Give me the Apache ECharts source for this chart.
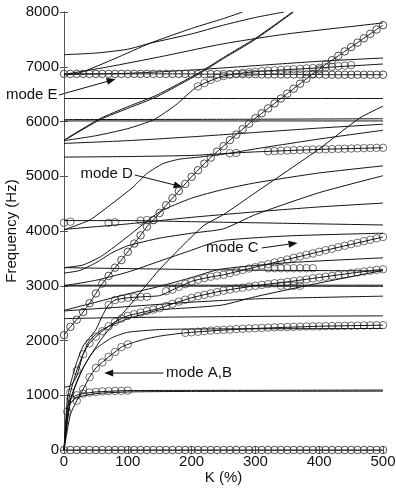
<!DOCTYPE html>
<html>
<head>
<meta charset="utf-8">
<script src="https://cdn.jsdelivr.net/npm/echarts@6/dist/echarts.min.js"></script>
<style>
html, body { margin: 0; padding: 0; background: #fff; }
#box { width: 396px; height: 496px; }
</style>
</head>
<body>
<div id="box"></div>
<script>
// sample positions of the circle markers (K, %)
var kStep = [0, 10, 20, 30, 40, 50, 60, 70, 80, 90, 100, 110, 120, 130, 140, 150, 160, 170, 180, 190, 200,
    210, 220, 230, 240, 250, 260, 270, 280, 290, 300, 310, 320, 330, 340, 350, 360, 370, 380, 390, 400,
    410, 420, 430, 440, 450, 460, 470, 480, 490, 500];

// circle-marked modes, one value per kStep
var zeroHz = [0, 0, 0, 0, 0, 0, 0, 0, 0, 0, 0, 0, 0, 0, 0, 0, 0, 0, 0, 0, 0,
    0, 0, 0, 0, 0, 0, 0, 0, 0, 0, 0, 0, 0, 0, 0, 0, 0, 0, 0, 0,
    0, 0, 0, 0, 0, 0, 0, 0, 0, 0];
var modeEHz = [6870, 6870, 6870, 6870, 6870, 6870, 6870, 6870, 6870, 6870, 6870, 6870, 6870, 6870, 6870, 6870, 6870, 6870, 6870, 6870, 6870,
    6865, 6865, 6865, 6865, 6865, 6865, 6865, 6865, 6865, 6865, 6860, 6860, 6860, 6860, 6860, 6860, 6860, 6860, 6860, 6860,
    6855, 6855, 6855, 6855, 6855, 6855, 6855, 6855, 6855, 6855];
var modeDHz = [2100, 2250, 2380, 2520, 2680, 2860, 3040, 3180, 3330, 3470, 3620, 3770, 3920, 4080, 4200, 4330, 4470, 4600, 4730, 4860, 4990,
    5110, 5230, 5340, 5450, 5550, 5660, 5760, 5860, 5960, 6060, 6150, 6240, 6330, 6420, 6510, 6600, 6690, 6780, 6870, 6950,
    7040, 7120, 7200, 7280, 7360, 7440, 7520, 7600, 7680, 7760];

// other circle groups [K, Hz]
var circLow = [[5, 700], [10, 940], [20, 1000], [30, 1030], [40, 1050], [50, 1060], [60, 1070], [70, 1075], [80, 1080], [90, 1080], [100, 1085]];
var circAB = [[20, 900], [30, 1110], [40, 1330], [50, 1500], [60, 1600], [70, 1700], [80, 1790], [90, 1880], [100, 1930],
    [190, 2140], [200, 2150], [210, 2160], [220, 2170], [230, 2180], [240, 2190], [250, 2195], [260, 2200], [270, 2210], [280, 2215], [290, 2220],
    [300, 2225], [310, 2230], [320, 2235], [330, 2240], [340, 2245], [350, 2248], [360, 2250], [370, 2253], [380, 2256], [390, 2258], [400, 2260],
    [410, 2262], [420, 2264], [430, 2266], [440, 2268], [450, 2270], [460, 2272], [470, 2274], [480, 2276], [490, 2278], [500, 2280]];
var circF5 = [[10, 1050], [20, 1450], [30, 1750], [40, 1950], [50, 2070], [60, 2170], [70, 2260], [80, 2340], [90, 2400], [100, 2450],
    [110, 2480], [120, 2510], [130, 2540], [140, 2565], [150, 2590], [160, 2630], [170, 2670], [180, 2710], [190, 2745], [200, 2780],
    [210, 2810], [220, 2835], [230, 2860], [240, 2885], [250, 2910], [260, 2930], [270, 2950], [280, 2965], [290, 2985], [300, 3000],
    [310, 3015], [320, 3030], [330, 3045], [340, 3055], [350, 3070], [360, 3085], [370, 3100], [380, 3115], [390, 3135], [400, 3150],
    [410, 3165], [420, 3180], [430, 3195], [440, 3210], [450, 3230], [460, 3245], [470, 3260], [480, 3275], [490, 3290], [500, 3300]];
var circC = [[70, 2650], [80, 2740], [90, 2765], [100, 2780], [110, 2790], [120, 2795], [130, 2800],
    [160, 2900], [170, 2930], [180, 2980], [190, 3030], [200, 3080], [210, 3110], [220, 3140], [230, 3165], [240, 3185], [250, 3200],
    [260, 3230], [270, 3260], [280, 3290], [290, 3315], [300, 3340], [310, 3370], [320, 3395], [330, 3425], [340, 3450], [350, 3480],
    [360, 3510], [370, 3535], [380, 3565], [390, 3590], [400, 3620], [410, 3650], [420, 3675], [430, 3705], [440, 3730], [450, 3760],
    [460, 3785], [470, 3815], [480, 3840], [490, 3865], [500, 3890]];
var circC2 = [[320, 3320], [330, 3320], [340, 3320], [350, 3320], [360, 3320], [370, 3320], [380, 3320], [390, 3320], [340, 3000], [350, 3000], [360, 3000], [370, 3000]];
var circQ1 = [[0, 4150], [10, 4170], [70, 4150], [80, 4160], [120, 4190], [130, 4200], [140, 4200]];
var circM5 = [[260, 5420], [270, 5425], [320, 5455], [330, 5460], [340, 5465], [350, 5470], [360, 5475], [370, 5480], [380, 5485], [390, 5488],
    [400, 5490], [410, 5493], [420, 5496], [430, 5500], [440, 5503], [450, 5506], [460, 5510], [470, 5513], [480, 5516], [490, 5518], [500, 5520]];
var circM3 = [[210, 6640], [220, 6700], [230, 6760], [240, 6800], [250, 6830], [260, 6855], [270, 6875], [280, 6890], [290, 6900], [300, 6910],
    [310, 6920], [320, 6928], [330, 6935], [340, 6942], [350, 6950], [360, 6955], [370, 6962], [380, 6970], [390, 6975], [400, 6980],
    [410, 6990], [420, 7000], [430, 7010], [440, 7020], [450, 7030]];

// plain curves [K, Hz]
var curves = [
    [[0, 7220], [50, 7250], [100, 7320], [135, 7430], [200, 7600], [250, 7760], [300, 7900], [345, 8000]],
    [[0, 6850], [25, 6890], [80, 7150], [135, 7430], [200, 7700], [250, 7880], [280, 8000]],
    [[0, 6860], [70, 7000], [150, 7180], [250, 7420], [350, 7600], [500, 7800]],
    [[0, 6860], [100, 6880], [200, 6940], [300, 7020], [400, 7100], [500, 7160]],
    [[0, 5650], [56, 6030], [100, 6240], [145, 6450], [213, 6880], [250, 7150], [300, 7500], [360, 8000]],
    [[0, 5660], [56, 6050], [100, 6270], [145, 6480], [213, 6900], [250, 7170], [300, 7520], [358, 8000]],
    [[0, 6420], [500, 6420]],
    [[0, 6010], [500, 6010]],
    [[0, 6035], [250, 6040], [500, 6050]],
    [[0, 5650], [50, 5740], [100, 5870], [140, 6030], [175, 6300], [208, 6630], [250, 6830], [300, 6910], [400, 6980], [500, 7050]],
    [[0, 5600], [100, 5650], [200, 5720], [300, 5800], [400, 5880], [500, 5950]],
    [[0, 5350], [100, 5360], [200, 5380], [260, 5420], [300, 5445], [400, 5490], [500, 5520]],
    [[0, 4020], [40, 4200], [72, 4470], [108, 4800], [130, 5050], [155, 5230], [180, 5310], [220, 5360], [260, 5420], [300, 5500], [400, 5680], [500, 5840]],
    [[0, 0], [10, 900], [30, 1500], [60, 2050], [100, 2600], [150, 3300], [218, 4090], [250, 4300], [300, 4700], [400, 5500], [463, 6060], [500, 6280]],
    [[0, 4190], [100, 4190], [200, 4170], [300, 4150], [400, 4130], [500, 4110]],
    [[0, 4030], [100, 4130], [200, 4250], [300, 4350], [400, 4440], [500, 4510]],
    [[0, 3330], [30, 3380], [60, 3550], [100, 3900], [150, 4350], [200, 4600], [250, 4760], [300, 4880], [400, 5060], [500, 5190]],
    [[0, 3230], [25, 3280], [50, 3420], [75, 3600], [100, 3730], [150, 3870], [200, 3960], [250, 4040], [300, 4300], [400, 4700], [500, 5010]],
    [[0, 3000], [50, 3100], [100, 3250], [150, 3450], [200, 3650], [244, 3820], [350, 3910], [500, 3960]],
    [[0, 2550], [50, 2700], [100, 2850], [150, 2990], [200, 3150], [244, 3300], [350, 3420], [500, 3510]],
    [[0, 3010], [500, 3010]],
    [[0, 2995], [500, 2990]],
    [[0, 3330], [250, 3290], [500, 3270]],
    [[0, 2540], [100, 2620], [200, 2700], [300, 2760], [500, 2810]],
    [[0, 2400], [100, 2420], [300, 2440], [500, 2450]],
    [[0, 0], [10, 900], [20, 1250], [30, 1500], [40, 1700], [50, 1850], [75, 2050], [100, 2150], [150, 2200], [200, 2210], [500, 2220]],
    [[0, 1150], [10, 1170], [20, 1350], [30, 1750], [40, 2000], [60, 2200], [100, 2400], [124, 2480], [150, 2560], [200, 2600], [249, 2650], [300, 2800], [400, 3050], [500, 3280]],
    [[0, 0], [5, 600], [10, 850], [20, 960], [50, 1030], [100, 1060], [200, 1070], [500, 1075]],
    [[0, 0], [5, 700], [10, 940], [20, 1000], [30, 1030], [50, 1060], [100, 1085], [300, 1090], [500, 1095]],
    [[0, 0], [10, 650], [20, 900], [30, 1110], [40, 1330], [50, 1500], [60, 1600], [70, 1700], [80, 1790], [90, 1880], [100, 1930], [125, 2020], [150, 2080], [175, 2120], [200, 2150], [250, 2190], [300, 2220], [400, 2260], [500, 2280]],
    [[0, 0], [5, 750], [10, 1050], [20, 1450], [30, 1750], [40, 1950], [50, 2070], [60, 2170], [70, 2260], [80, 2340], [100, 2450], [125, 2520], [150, 2590], [175, 2690], [200, 2780], [225, 2850], [250, 2910], [300, 3000], [350, 3070], [400, 3150], [450, 3230], [500, 3300]],
    [[0, 0], [5, 900], [10, 1200], [20, 1600], [30, 1900], [40, 2050], [50, 2200], [60, 2450], [70, 2650], [80, 2740], [100, 2780], [125, 2800], [150, 2820], [175, 2950], [200, 3080], [225, 3150], [250, 3200], [300, 3340], [400, 3620], [500, 3890]]
];

// annotations: text anchor and arrow [from, to] in data units
var notes = [
    { text: 'mode E', at: [-10, 6484], align: 'right', from: [-8, 6484], to: [81, 6776] },
    { text: 'mode D', at: [108, 5041], align: 'right', from: [111, 5023], to: [186, 4804] },
    { text: 'mode C', at: [305, 3690], align: 'right', from: [310, 3690], to: [366, 3781] },
    { text: 'mode A,B', at: [160, 1406], align: 'left', from: [156, 1406], to: [63, 1406] }
];

var myChart = echarts.init(document.getElementById('box'));
var font = 'Liberation Sans, Arial, sans-serif';

function pair(ks, vs) {
    var out = [];
    for (var i = 0; i < ks.length; i++) out.push([ks[i], vs[i]]);
    return out;
}

var circleStyle = { color: 'rgba(0,0,0,0)', borderColor: '#3a3a3a', borderWidth: 0.9 };

var series = [];
curves.forEach(function (c) {
    series.push({
        type: 'line', data: c, showSymbol: false, smooth: 0.2,
        lineStyle: { color: '#111', width: 1 }, silent: true
    });
});
// modes drawn as lines with circles
[pair(kStep, zeroHz), pair(kStep, modeEHz), pair(kStep, modeDHz)].forEach(function (d) {
    series.push({
        type: 'line', data: d, symbol: 'circle', symbolSize: 7.5, showAllSymbol: true, smooth: 0.2,
        lineStyle: { color: '#111', width: 1 }, itemStyle: circleStyle, silent: true
    });
});
[circLow, circAB, circF5, circC, circC2, circQ1, circM5, circM3].forEach(function (d) {
    series.push({
        type: 'scatter', data: d, symbol: 'circle', symbolSize: 7.5,
        itemStyle: circleStyle, silent: true
    });
});

var axisLine = { show: true, lineStyle: { color: '#555', width: 1 } };
var tick = { show: true, inside: true, length: 4, lineStyle: { color: '#555' } };
var plain = function (v) { return String(v); };

var option = {
    animation: false,
    backgroundColor: '#fff',
    grid: { left: 64, right: 13, top: 12, bottom: 46, outerBoundsMode: 'none', containLabel: false },
    xAxis: [{
        type: 'value', min: 0, max: 500, interval: 100,
        name: 'K (%)', nameLocation: 'middle', nameGap: 20, nameMoveOverlap: false,
        nameTextStyle: { fontFamily: font, fontSize: 15, color: '#111' },
        axisLine: axisLine, axisTick: tick, splitLine: { show: false },
        axisLabel: { fontFamily: font, fontSize: 15, color: '#111', margin: 4, formatter: plain }
    }, {
        type: 'value', position: 'top', min: 0, max: 500, interval: 100,
        axisLine: axisLine, axisTick: tick, splitLine: { show: false }, axisLabel: { show: false }
    }],
    yAxis: [{
        type: 'value', min: 0, max: 8000, interval: 1000,
        name: 'Frequency (Hz)', nameLocation: 'middle', nameGap: 45, nameMoveOverlap: false,
        nameTextStyle: { fontFamily: font, fontSize: 15, color: '#111' },
        axisLine: axisLine, axisTick: tick, splitLine: { show: false },
        axisLabel: { fontFamily: font, fontSize: 15, color: '#111', margin: 5, formatter: plain }
    }, {
        type: 'value', position: 'right', min: 0, max: 8000, interval: 1000,
        axisLine: axisLine, axisTick: tick, splitLine: { show: false }, axisLabel: { show: false }
    }],
    series: series
};

myChart.setOption(option);

// arrows and labels placed through the chart's own scales
var graphics = [];
notes.forEach(function (n) {
    var p = myChart.convertToPixel({ gridIndex: 0 }, n.at);
    var a = myChart.convertToPixel({ gridIndex: 0 }, n.from);
    var b = myChart.convertToPixel({ gridIndex: 0 }, n.to);
    graphics.push({
        type: 'text', x: p[0], y: p[1],
        style: { text: n.text, fill: '#111', font: '15px ' + font, textAlign: n.align, textVerticalAlign: 'middle' }
    });
    var ang = Math.atan2(b[1] - a[1], b[0] - a[0]);
    var len = 9, w = 3.5;
    var bx = b[0] - len * Math.cos(ang), by = b[1] - len * Math.sin(ang);
    graphics.push({
        type: 'line', shape: { x1: a[0], y1: a[1], x2: bx, y2: by },
        style: { stroke: '#111', lineWidth: 1 }
    });
    graphics.push({
        type: 'polygon',
        shape: { points: [[b[0], b[1]], [bx - w * Math.sin(ang), by + w * Math.cos(ang)], [bx + w * Math.sin(ang), by - w * Math.cos(ang)]] },
        style: { fill: '#111' }
    });
});
myChart.setOption({ graphic: graphics });
</script>
</body>
</html>
